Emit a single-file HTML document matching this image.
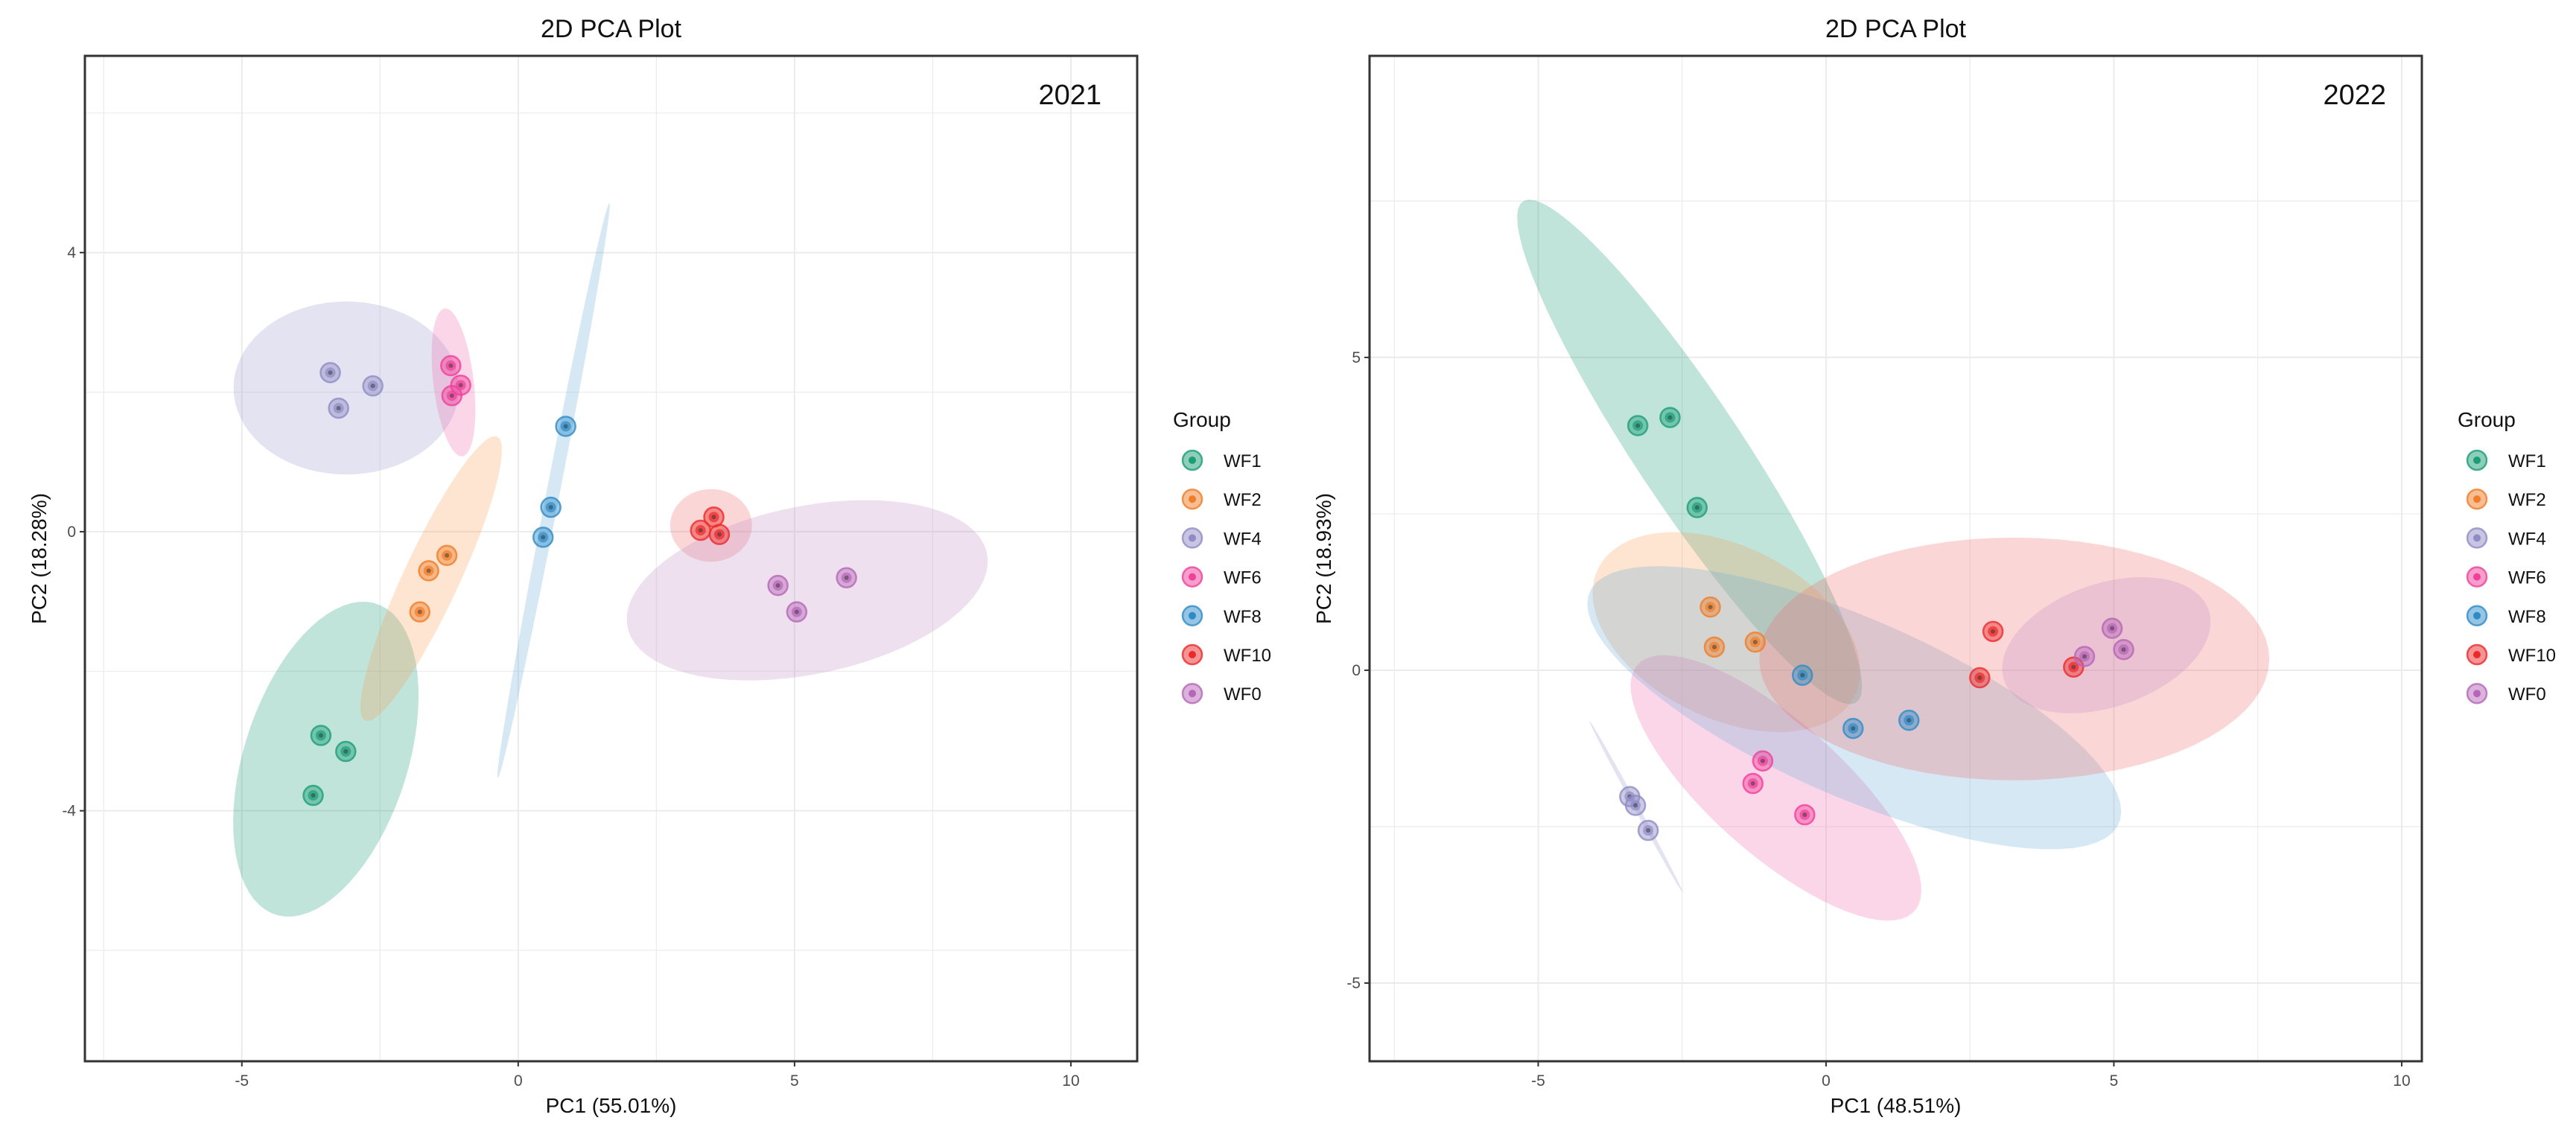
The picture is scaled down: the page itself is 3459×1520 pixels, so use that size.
<!DOCTYPE html>
<html><head><meta charset="utf-8"><style>
html,body{margin:0;padding:0;background:#fff;}
svg{display:block;font-family:"Liberation Sans",sans-serif;}
</style></head><body>
<svg id="chart" width="3459" height="1520" viewBox="0 0 3459 1520" xmlns="http://www.w3.org/2000/svg"></svg>
<script>
// ---------- data ----------
const groups = ["WF1","WF2","WF4","WF6","WF8","WF10","WF0"];
const colors = ["#1b9e77","#f07d28","#8f8bc6","#f0409a","#2e8bc8","#ec2a2a","#b665b8"];
const fills  = ["#1b9e77","#f7a35c","#9e9acb","#f06db0","#6aaed6","#f26b6b","#c18fc7"];

// 2021 scores (PC1, PC2) per group
const x2021 = [[-3.57,-3.12,-3.71],[-1.29,-1.62,-1.78],[-3.40,-2.63,-3.25],[-1.22,-1.04,-1.20],[0.86,0.59,0.45],[3.54,3.30,3.64],[4.70,5.94,5.04]];
const y2021 = [[-2.92,-3.15,-3.78],[-0.34,-0.56,-1.15],[2.28,2.09,1.77],[2.38,2.10,1.95],[1.51,0.35,-0.08],[0.21,0.02,-0.04],[-0.77,-0.66,-1.15]];
// 2022 scores
const x2022 = [[-3.27,-2.71,-2.24],[-2.01,-1.94,-1.23],[-3.41,-3.31,-3.09],[-1.10,-1.27,-0.37],[-0.41,0.47,1.44],[2.90,2.67,4.30],[4.97,5.17,4.49]];
const y2022 = [[3.91,4.04,2.60],[1.01,0.37,0.45],[-2.02,-2.16,-2.56],[-1.45,-1.81,-2.31],[-0.08,-0.93,-0.80],[0.62,-0.12,0.05],[0.67,0.33,0.22]];

// ellipses: [centerX, centerY, axis1EndX, axis1EndY, axis2EndX, axis2EndY] in data units
const ell2021 = [[-3.48,-3.26,-2.62,-1.02,-2.04,-3.54],[-1.575,-0.672,-0.386,1.365,-1.10,-0.81],[-3.11,2.06,-1.07,2.06,-3.11,3.30],[-1.17,2.14,-1.31,3.20,-0.80,2.12],[0.64,0.59,1.65,4.71,0.76,0.58],[3.49,0.09,4.23,0.09,3.49,0.61],[5.23,-0.84,8.47,-0.27,5.65,-2.00]];
const ell2022 = [[-2.37,3.49,-4.94,7.47,-0.83,2.84],[-1.73,0.61,0.41,-0.54,-2.64,-0.50],[-3.30,-2.18,-4.11,-0.81,-3.26,-2.17],[-0.87,-1.88,1.49,-3.89,-1.77,-2.56],[0.49,-0.60,5.06,-2.50,-0.30,-1.83],[3.27,0.18,7.70,0.18,3.27,2.12],[4.87,0.40,6.61,1.04,5.37,-0.48]];
const ellOpacity = [0.28,0.28,0.28,0.28,0.28,0.28,0.28];

const xTicks = [-5,0,5,10];
const yTicks2021 = [-4,0,4];
const yTicks2022 = [-5,0,5];

// ---------- drawing ----------
const NS = "http://www.w3.org/2000/svg";
const svg = document.getElementById("chart");
function mk(tag, attrs, parent){const e=document.createElementNS(NS,tag);for(const k in attrs)e.setAttribute(k,attrs[k]);(parent||svg).appendChild(e);return e;}

function panel(cfg){
  const g = mk("g",{});
  
  
  const {L,R,T,B,xmin,xmax,ymin,ymax} = cfg;
  const sx = v => L + (v - xmin)/(xmax - xmin)*(R - L);
  const sy = v => B - (v - ymin)/(ymax - ymin)*(B - T);
  const gg = mk("g",{},g);
  
  
  for(let v=Math.ceil(xmin/2.5)*2.5; v<=xmax; v+=2.5){
    const major = Math.abs(v%5)<1e-9;
    mk("line",{x1:sx(v),x2:sx(v),y1:T,y2:B,stroke:"#ebebeb","stroke-width":major?2:1.2},gg);
  }
  const ystep = cfg.ystep/2;
  for(let v=Math.ceil(ymin/ystep)*ystep; v<=ymax; v+=ystep){
    const major = Math.abs(v%cfg.ystep)<1e-9;
    mk("line",{x1:L,x2:R,y1:sy(v),y2:sy(v),stroke:"#ebebeb","stroke-width":major?2:1.2},gg);
  }
  cfg.ell.forEach((e,i)=>{
    const cx=sx(e[0]), cy=sy(e[1]);
    const v1=[sx(e[2])-cx, sy(e[3])-cy], v2=[sx(e[4])-cx, sy(e[5])-cy];
    let d="";
    for(let k=0;k<=72;k++){const t=k/72*2*Math.PI;const px=cx+Math.cos(t)*v1[0]+Math.sin(t)*v2[0];const py=cy+Math.cos(t)*v1[1]+Math.sin(t)*v2[1];d+=(k?"L":"M")+px.toFixed(1)+","+py.toFixed(1);}
    const p = mk("path",{d:d+"Z",fill:fills[i],"fill-opacity":ellOpacity[i],stroke:"none"},g);
    
    
  });
  cfg.xs.forEach((arr,i)=>{
    arr.forEach((xv,j)=>{
      const pg = mk("g",{},g);
      
      
      const px=sx(xv), py=sy(cfg.ys[i][j]);
      mk("circle",{cx:px,cy:py,r:13,fill:colors[i],"fill-opacity":0.45,stroke:colors[i],"stroke-opacity":0.8,"stroke-width":2.5},pg);
      mk("circle",{cx:px,cy:py,r:7,fill:colors[i],"fill-opacity":0.7},pg);
      mk("circle",{cx:px,cy:py,r:3,fill:"#333","fill-opacity":0.5},pg);
    });
  });
  const bd = mk("rect",{x:L,y:T,width:R-L,height:B-T,fill:"none",stroke:"#333","stroke-width":3},g);
  
  
  xTicks.forEach(v=>{
    mk("line",{x1:sx(v),x2:sx(v),y1:B,y2:B+7,stroke:"#333","stroke-width":2},g);
    const t=mk("text",{x:sx(v),y:B+33,"text-anchor":"middle","font-size":21,fill:"#4d4d4d"},g);
    t.textContent=v;
    
    
  });
  cfg.yTicks.forEach(v=>{
    mk("line",{x1:L-7,x2:L,y1:sy(v),y2:sy(v),stroke:"#333","stroke-width":2},g);
    const t=mk("text",{x:L-12,y:sy(v)+7,"text-anchor":"end","font-size":21,fill:"#4d4d4d"},g);
    t.textContent=v;
    
    
  });
  const ti=mk("text",{x:(L+R)/2,y:50,"text-anchor":"middle","font-size":34,fill:"#111"},g);
  ti.textContent="2D PCA Plot";
  
  
  const yr=mk("text",{x:R-48,y:140,"text-anchor":"end","font-size":38,fill:"#111"},g);
  yr.textContent=cfg.year;
  
  
  const xt=mk("text",{x:(L+R)/2,y:1494,"text-anchor":"middle","font-size":28,fill:"#111"},g);
  xt.textContent=cfg.xlab;
  
  
  const ytt=mk("text",{x:0,y:0,"text-anchor":"middle","font-size":28,fill:"#111",transform:`translate(${L-52},${(T+B)/2}) rotate(-90)`},g);
  ytt.textContent=cfg.ylab;
  
  
  const lg = mk("g",{},g);
  
  
  const gt=mk("text",{x:cfg.legX-26,y:573,"font-size":28,fill:"#111"},lg);
  gt.textContent="Group";
  
  
  groups.forEach((gname,i)=>{
    const eg = mk("g",{},lg);
    
    
    const cy = 618 + i*52.2;
    mk("circle",{cx:cfg.legX,cy:cy,r:13,fill:colors[i],"fill-opacity":0.5,stroke:colors[i],"stroke-opacity":0.8,"stroke-width":2.5},eg);
    mk("circle",{cx:cfg.legX,cy:cy,r:5,fill:colors[i]},eg);
    const tx=mk("text",{x:cfg.legX+42,y:cy+9,"font-size":24,fill:"#111"},eg);
    tx.textContent=gname;
  });
}

panel({name:"panel-2021",L:114,R:1527,T:75,B:1425,xmin:-7.84,xmax:11.2,ymin:-7.59,ymax:6.82,ystep:4,
  yTicks:yTicks2021,xs:x2021,ys:y2021,ell:ell2021,year:"2021",xlab:"PC1 (55.01%)",ylab:"PC2 (18.28%)",legX:1601});
panel({name:"panel-2022",L:1839,R:3252,T:75,B:1425,xmin:-7.93,xmax:10.35,ymin:-6.25,ymax:9.82,ystep:5,
  yTicks:yTicks2022,xs:x2022,ys:y2022,ell:ell2022,year:"2022",xlab:"PC1 (48.51%)",ylab:"PC2 (18.93%)",legX:3326});
</script>
</body></html>
